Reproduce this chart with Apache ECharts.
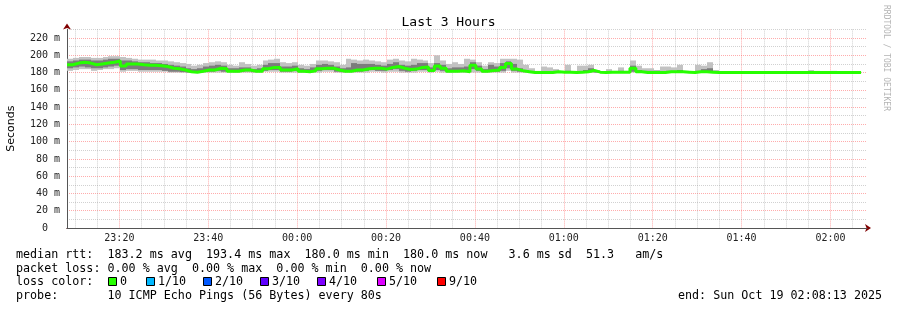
<!DOCTYPE html>
<html><head><meta charset="utf-8">
<script src="https://cdn.jsdelivr.net/npm/echarts@6/dist/echarts.min.js"></script>
<style>html,body{margin:0;padding:0;background:#fff}#c{width:897px;height:310px}</style>
</head><body><div id="c"></div>
<script>
// time in minutes after 23:00:00 ; start 23:08:13, 3 hours, probe every 80 s
const startMin = 8 + 13/60;
const endMin = startMin + 180;
const stepMin = 80/60;

const median = [
 189,191,192,191,189,190,191,192,193.4,187.5,190,190,189,188.5,188.5,188,187,185,184.5,183,181,180.5,181.5,183,183,185,184.5,
 181.5,181.5,183,183,181.5,181.5,184.5,186,186,183,183,184.5,181.5,181,182,184.5,185,185,183,181.5,181.5,183,183,184.5,185,185,184,
 186,187,185,183.5,184,186,186.5,182.5,187.5,185,181.5,181.5,182,181,188.5,184,181.5,182.5,183,186,190.5,184,182,181,180,180,180,
 180,181,180.5,180.5,180,180.5,181,182.5,180.5,180,180.5,180.5,180.5,180.5,185,181,180,180,180,180,181,181,181,180.5,180,181,181,
 180.5,180,180,180,180,180,180,180,180,180,180,180,180,180,180,180,180,180,180,180,180,180,180,180,180,180
];
const smokeMin = [
 182,183,184,184,182,183,184,184,185,181,182,182,181,181,181,181,181,180,180,180,180,180,180,180,180,180,180,
 180,180,180,180,180,180,181,181,181,180,180,180,180,180,180,180,181,181,180,180,180,180,180,180,181,181,180,
 181,181,180,180,180,181,181,180,181,180,180,180,180,180,180,180,180,180,180,180,182,180,180,180,180,180,180,
 180,180,180,180,180,180,180,180,180,180,180,180,180,180,180,180,180,180,180,180,180,180,180,180,180,180,180,
 180,180,180,180,180,180,180,180,180,180,180,180,180,180,180,180,180,180,180,180,180,180,180,180,180,180
];
const smokeLo = [
 185,186,187,186,185,185,186,187,188,183,184,184,183,183,183,183,182,181,181,180.5,180,180,180.5,181,181,182,181,
 181,180.5,181,181.5,180.5,181,182,183,183,181,181,182,180.5,180.5,181,182,183,183,181,180.5,181,181,181,182,183,182,182,
 183,184,182,181,182,183,183,181,183,182,180.5,181,181,180.5,184,182,180.5,181,181,182,185,182,181,180.5,180,180,180,
 180,180,180,180,180,180,180,181,180,180,180,180,180,180,181,180,180,180,180,180,180,180,180,180,180,180,180,
 180,180,180,180,180,180,180,180,180,180,180,180,180,180,180,180,180,180,180,180,180,180,180,180,180,180
];
const smokeHi = [
 193,194,195,195,194,194,195,196,196,194,194,193,192,192,191,191,190,189,188,187,185,184,185,187,188,189,188,
 185,185,186,186,184,185,189,191,191,187,187,188,185,184,186,189,190,189,187,185,186,191,190,190,190,189,188,
 190,192,189,188,189,191,191,186,191,189,185,186,186,187,192,188,184,189,187,191,193,190,185,183,181,180,180,
 180,182,181,182,181,181,183,185,181,180,181,181,182,181,188,183,182,182,182,181,182,182,183,181,180,182,184,
 185,181,180,180,180,180,180,180,180,180,180,180,180,180,180,180,180,180,180,180,180,180,180,180,180,180
];
const smokeMax = [
 196,197,198,198,197,197,198,199,199,198,197,196,195,195,195,194,194,193,192,191,190,188,189,191,192,193,192,
 189,188,192,190,188,189,194,195,196,192,191,192,189,188,190,194,194,193,192,189,196,195,194,195,194,193,192,
 195,196,194,193,196,195,194,191,200,194,190,192,190,196,195,192,188,192,191,196,196,196,195,189,185,182,187,
 186,184,182,189,182,188,188,189,183,181,184,182,186,182,194,188,185,185,183,187,187,186,189,182,181,189,188,
 192,183,180,180,180,180,180,180,180,180,180,180,180,180,180,180,180,183,182,180,180,182,180,180,180,180
];

const xMajorTicks = [20,40,60,80,100,120,140,160,180];
const xMinorTicks = [10,15,25,30,35,45,50,55,65,70,75,85,90,95,105,110,115,125,130,135,145,150,155,165,170,175,185];
const yLabelTicks = [0,20,40,60,80,100,120,140,160,180,200,220];
const yMajorTicks = [20,40,60,80,100,120,140,160,180,200,220];
const yMinorTicks = [10,30,50,70,90,110,130,150,170,190,210,230];

const lossLabels = ['0','1/10','2/10','3/10','4/10','5/10','9/10'];
const lossColors = ['#26ff00','#00b8ff','#0059ff','#5e00ff','#7e00ff','#dd00ff','#ff0000'];
const lossBoxX = [108,146,203,260,317,377,437];

const textLines = [
 'median rtt:  183.2 ms avg  193.4 ms max  180.0 ms min  180.0 ms now   3.6 ms sd  51.3   am/s',
 'packet loss: 0.00 % avg  0.00 % max  0.00 % min  0.00 % now',
 'loss color:',
 'probe:       10 ICMP Echo Pings (56 Bytes) every 80s'
];
const endText = 'end: Sun Oct 19 02:08:13 2025';

const MONO = '"DejaVu Sans Mono", monospace';
const pad = n => (n < 10 ? '0' : '') + n;
const timeFmt = v => { const t = Math.round(v); return pad((23 + Math.floor(t/60)) % 24) + ':' + pad(t % 60); };

const smokeData = median.map((_, i) => [startMin + i*stepMin, startMin + (i+1)*stepMin, smokeMin[i], smokeLo[i], smokeHi[i], smokeMax[i]]);
const medData = median.map((v, i) => [startMin + i*stepMin, v]);
medData.push([startMin + median.length*stepMin, median[median.length-1]]);

const gray = {color:'rgba(140,140,140,0.4)', type:[1,1], width:1};
const red = {color:'rgba(255,70,70,0.45)', type:[1,1], width:1};

const graphic = [];
const lineY = [255, 268.5, 282, 295.5];
textLines.forEach((t, k) => graphic.push({type:'text', x:16, y:lineY[k], style:{text:t, font:'11.7px ' + MONO, fill:'#000', verticalAlign:'middle'}}));
graphic.push({type:'text', x:678, y:lineY[3], style:{text:endText, font:'11.7px ' + MONO, fill:'#000', verticalAlign:'middle'}});
lossLabels.forEach((l, k) => {
  graphic.push({type:'rect', shape:{x:lossBoxX[k]+0.5, y:277.5, width:8, height:8}, style:{fill:lossColors[k], stroke:'#000', lineWidth:1}});
  graphic.push({type:'text', x:lossBoxX[k]+12, y:lineY[2], style:{text:l, font:'11.7px ' + MONO, fill:'#000', verticalAlign:'middle'}});
});
graphic.push({type:'text', x:886, y:5, rotation:-Math.PI/2, style:{text:'RRDTOOL / TOBI OETIKER', font:'8px ' + MONO, fill:'#b4b4b4', verticalAlign:'middle', align:'left'}});

const chart = echarts.init(document.getElementById('c'), null, {renderer:'canvas'});
chart.setOption({
  animation:false,
  backgroundColor:'#ffffff',
  title:{text:'Last 3 Hours', left:'center', top:11, textStyle:{fontFamily:MONO, fontSize:13, fontWeight:'normal', color:'#000'}},
  grid:{left:67, right:30, top:29.4, bottom:82, containLabel:false, outerBoundsMode:'none'},
  xAxis:[
    {type:'value', min:startMin, max:endMin, position:'bottom', z:1,
     axisLine:{show:true, onZero:false, lineStyle:{color:'#555', width:1}},
     axisTick:{show:false, customValues:xMinorTicks}, axisLabel:{show:false},
     splitLine:{show:true, lineStyle:gray}},
    {type:'value', min:startMin, max:endMin, position:'bottom', z:0,
     axisLine:{show:true, onZero:false, symbol:['none','arrow'], symbolSize:[6,6], symbolOffset:[0,4], lineStyle:{color:'#800000', width:1}},
     axisTick:{show:false, customValues:xMajorTicks},
     axisLabel:{customValues:xMajorTicks, formatter:timeFmt, fontFamily:MONO, fontSize:10, color:'#222', margin:5},
     splitLine:{show:true, lineStyle:red}}
  ],
  yAxis:[
    {type:'value', min:0, max:230, position:'left', z:1,
     axisLine:{show:true, onZero:false, lineStyle:{color:'#555', width:1}},
     axisTick:{show:false, customValues:yMinorTicks}, axisLabel:{show:false},
     splitLine:{show:true, lineStyle:gray}},
    {type:'value', min:0, max:230, position:'left', z:0,
     name:'Seconds', nameLocation:'middle', nameGap:50, nameRotate:90,
     nameTextStyle:{fontFamily:'"DejaVu Sans", sans-serif', fontSize:11, color:'#000'},
     axisLine:{show:true, onZero:false, symbol:['none','arrow'], symbolSize:[6,6], symbolOffset:[0,6], lineStyle:{color:'#800000', width:1}},
     axisTick:{show:false, customValues:yMajorTicks},
     axisLabel:{customValues:yLabelTicks, formatter:v => (v === 0 ? '0  ' : v + ' m'), fontFamily:MONO, fontSize:10, color:'#222', margin:7},
     splitLine:{show:true, lineStyle:red}}
  ],
  series:[
    {type:'custom', name:'smoke', xAxisIndex:1, yAxisIndex:1, z:2, silent:true,
     data:smokeData, encode:{x:[0,1], y:[2,5]},
     renderItem:function(params, api){
       const t0 = api.value(0), t1 = api.value(1);
       const layers = [[api.value(2), api.value(5), '#c2c2c2'], [api.value(3), api.value(4), '#7c7c7c']];
       const children = [];
       layers.forEach(([a, b, c]) => {
         if (b <= a) return;
         const p0 = api.coord([t0, a]), p1 = api.coord([t1, b]);
         const x0 = Math.round(p0[0]), x1 = Math.round(p1[0]);
         children.push({type:'rect', shape:{x:x0, y:p1[1], width:x1 - x0, height:p0[1] - p1[1]}, style:{fill:c}});
       });
       return {type:'group', children};
     }},
    {type:'line', name:'median', xAxisIndex:1, yAxisIndex:1, z:3, step:'end', symbol:'none', silent:true,
     data:medData, lineStyle:{color:'#26ff00', width:3}}
  ],
  graphic:graphic
});
</script></body></html>
